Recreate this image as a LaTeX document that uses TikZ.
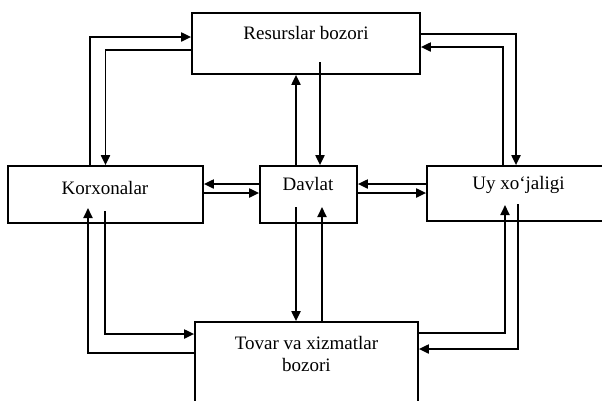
\documentclass[tikz,border=0pt]{standalone}
\usepackage{fontspec}
\setmainfont{Liberation Serif}
\usetikzlibrary{arrows.meta}
\begin{document}
\begin{tikzpicture}[x=1pt,y=-1pt,
  box/.style={draw, line width=1.7pt, rectangle, inner sep=0pt},
  lbl/.style={font=\fontsize{19}{22}\selectfont, inner sep=0pt, align=center},
  arr/.style={line width=1.9pt, -{Triangle[length=10pt,width=9pt]}},
  ln/.style={line width=1.9pt}]
\useasboundingbox (0,0) rectangle (602,400);
\clip (0,0) rectangle (602,400);
% boxes
\node[box, minimum width=228pt, minimum height=61pt] (res) at (306,43.5) {};
\node[box, minimum width=195pt, minimum height=57pt] (kor) at (105.5,194.5) {};
\node[box, minimum width=97pt, minimum height=57pt] (dav) at (308.5,194.5) {};
\node[box, minimum width=213pt, minimum height=55pt] (uy) at (533.5,193.5) {};
\node[box, minimum width=223pt, minimum height=118pt] (tov) at (306.5,381) {};
% labels
\node[lbl] (tres) at (306,33) {Resurslar bozori};
\node[lbl] (tkor) at (105,187.5) {Korxonalar};
\node[lbl] (tdav) at (308,184) {Davlat};
\node[lbl] (tuy) at (518.5,185) {Uy xo‘jaligi};
\node[lbl] (ttov) at (306.5,354) {Tovar va xizmatlar\\bozori};
% Korxonalar <-> Resurslar
\draw[arr] ([xshift=-15.5pt]kor.north) |- ([yshift=6.5pt]res.west);
\draw[arr] ([yshift=-6.5pt]res.west) -| (kor.north);
% Davlat <-> Resurslar
\draw[arr] ([xshift=-12.5pt]dav.north) -- ([xshift=-10pt]res.south);
\draw[arr] ([xshift=14pt,yshift=-18.5pt]res.center) -- ([xshift=11.5pt]dav.north);
% Resurslar <-> Uy
\draw[arr] ([yshift=9.5pt]res.east) -| ([xshift=-17.5pt]uy.north);
\draw[arr] ([xshift=-30.5pt]uy.north) |- ([yshift=-3.5pt]res.east);
% Korxonalar <-> Davlat
\draw[arr] ([yshift=10.5pt]dav.west) -- ([yshift=10.5pt]kor.east);
\draw[arr] ([yshift=1.5pt]kor.east) -- ([yshift=1.5pt]dav.west);
% Davlat <-> Uy
\draw[arr] ([yshift=9.5pt]uy.west) -- ([yshift=10.5pt]dav.east);
\draw[arr] ([yshift=1.5pt]dav.east) -- ([yshift=0.5pt]uy.west);
% Davlat <-> Tovar
\draw[arr] ([xshift=-12.5pt,yshift=-12.5pt]dav.center) -- ([xshift=-10.5pt]tov.north);
\draw[arr] ([xshift=15.5pt]tov.north) -- ([xshift=13.5pt,yshift=-12.5pt]dav.center);
% Korxonalar <-> Tovar
\draw[arr] ([yshift=28pt]tov.west) -| ([xshift=-17.5pt,yshift=-13.5pt]kor.center);
\draw[arr] ([xshift=-0.5pt,yshift=-16.5pt]kor.center) |- ([yshift=47pt]tov.west);
% Uy <-> Tovar
\draw[arr] ([yshift=48pt]tov.east) -| ([xshift=-28.5pt,yshift=-11.5pt]uy.center);
\draw[arr] ([xshift=-15.5pt,yshift=-10.5pt]uy.center) |- ([yshift=32pt]tov.east);
\end{tikzpicture}
\end{document}
